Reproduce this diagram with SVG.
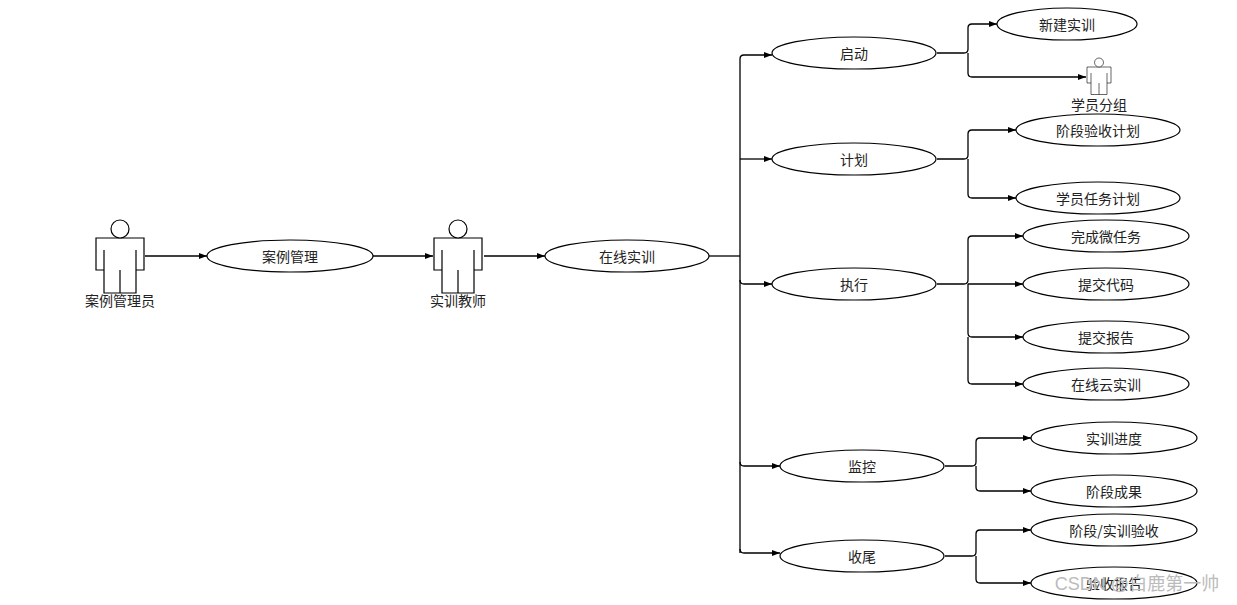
<svg xmlns="http://www.w3.org/2000/svg" width="1237" height="605" viewBox="0 0 1237 605">
<defs>
<marker id="ah" markerWidth="8" markerHeight="6" refX="8" refY="3" orient="auto" markerUnits="userSpaceOnUse"><path d="M0,0 L8,3 L0,6 Z" fill="#000"/></marker>
<g id="actor" fill="#fff" stroke="#000" stroke-width="1.2"><path d="M-24,0 H24 V32 H16 V55 H-16 V32 H-24 Z M-16,12 V32 M16,12 V32 M0,32 V55"/><circle cx="0" cy="-9" r="9"/></g>
</defs>
<style>
text{font-family:"Noto Sans CJK SC","Liberation Sans",sans-serif;font-size:14px;text-anchor:middle;dominant-baseline:central;fill:#222}
ellipse{fill:#fff;stroke:#000;stroke-width:1.2}
.c{fill:none;stroke:#000;stroke-width:1.3;marker-end:url(#ah)}
.t{fill:none;stroke:#000;stroke-width:1.3}
.w{fill:#bbb;font-size:18px;font-family:"Liberation Sans","Noto Sans CJK SC",sans-serif}
</style>
<rect width="1237" height="605" fill="#fff"/>
<g id="connectors">
<path class="c" d="M145,256 H207"/>
<path class="c" d="M373,256 H433"/>
<path class="c" d="M484,256 H545"/>
<path class="t" d="M709,256 H740"/>
<path class="c" d="M740,553 V59 Q740,55 744,55 H772"/>
<path class="c" d="M740,159 H772"/>
<path class="c" d="M740,280 Q740,284 744,284 H772"/>
<path class="c" d="M740,462 Q740,466 744,466 H780"/>
<path class="c" d="M740,549 Q740,553 744,553 H780"/>
<path class="c" d="M937,53 H964 Q968,53 968,49 V28 Q968,24 972,24 H997"/>
<path class="c" d="M968,53 V73 Q968,77 972,77 H1086"/>
<path class="c" d="M937,159 H964 Q968,159 968,155 V134 Q968,130 972,130 H1016"/>
<path class="c" d="M968,159 V194 Q968,198 972,198 H1016"/>
<path class="c" d="M937,284 H964 Q968,284 968,280 V240 Q968,236 972,236 H1023"/>
<path class="c" d="M968,284 H1023"/>
<path class="c" d="M968,284 V333 Q968,337 972,337 H1023"/>
<path class="c" d="M968,337 V380 Q968,384 972,384 H1023"/>
<path class="c" d="M945,466 H972 Q976,466 976,462 V442 Q976,438 980,438 H1031"/>
<path class="c" d="M976,466 V487 Q976,491 980,491 H1031"/>
<path class="c" d="M945,556 H972 Q976,556 976,552 V534 Q976,530 980,530 H1031"/>
<path class="c" d="M976,556 V579 Q976,583 980,583 H1031"/>
</g>
<g id="a1"><use href="#actor" x="120" y="238"/><text x="120" y="300">案例管理员</text></g>
<g id="n1"><ellipse cx="290" cy="256" rx="83" ry="16"/><text x="290" y="256">案例管理</text></g>
<g id="a2"><use href="#actor" x="458" y="238"/><text x="458" y="300">实训教师</text></g>
<g id="n2"><ellipse cx="627" cy="256" rx="82" ry="16"/><text x="627" y="256">在线实训</text></g>
<g id="n3"><ellipse cx="854" cy="53" rx="82" ry="16"/><text x="854" y="53">启动</text></g>
<g id="n4"><ellipse cx="854" cy="159" rx="82" ry="16"/><text x="854" y="159">计划</text></g>
<g id="n5"><ellipse cx="854" cy="284" rx="82" ry="16"/><text x="854" y="284">执行</text></g>
<g id="n6"><ellipse cx="862" cy="466" rx="82" ry="16"/><text x="862" y="466">监控</text></g>
<g id="n7"><ellipse cx="862" cy="556" rx="82" ry="16"/><text x="862" y="556">收尾</text></g>
<g id="n8"><ellipse cx="1067" cy="24" rx="70" ry="16"/><text x="1067" y="24">新建实训</text></g>
<g id="a3"><g transform="translate(1099,67) scale(0.5)"><use href="#actor"/></g><text x="1099" y="104">学员分组</text></g>
<g id="n9"><ellipse cx="1098" cy="130" rx="82" ry="16"/><text x="1098" y="130">阶段验收计划</text></g>
<g id="n10"><ellipse cx="1098" cy="198" rx="82" ry="16"/><text x="1098" y="198">学员任务计划</text></g>
<g id="n11"><ellipse cx="1106" cy="236" rx="83" ry="16"/><text x="1106" y="236">完成微任务</text></g>
<g id="n12"><ellipse cx="1106" cy="284" rx="83" ry="16"/><text x="1106" y="284">提交代码</text></g>
<g id="n13"><ellipse cx="1106" cy="337" rx="83" ry="16"/><text x="1106" y="337">提交报告</text></g>
<g id="n14"><ellipse cx="1106" cy="384" rx="83" ry="16"/><text x="1106" y="384">在线云实训</text></g>
<g id="n15"><ellipse cx="1114" cy="438" rx="83" ry="16"/><text x="1114" y="438">实训进度</text></g>
<g id="n16"><ellipse cx="1114" cy="491" rx="83" ry="16"/><text x="1114" y="491">阶段成果</text></g>
<g id="n17"><ellipse cx="1114" cy="530" rx="83" ry="16"/><text x="1114" y="530">阶段/实训验收</text></g>
<g id="n18"><ellipse cx="1114" cy="583" rx="83" ry="16"/><text x="1114" y="583">验收报告</text></g>
<text class="w" x="1137" y="584">CSDN @白鹿第一帅</text>
</svg>
